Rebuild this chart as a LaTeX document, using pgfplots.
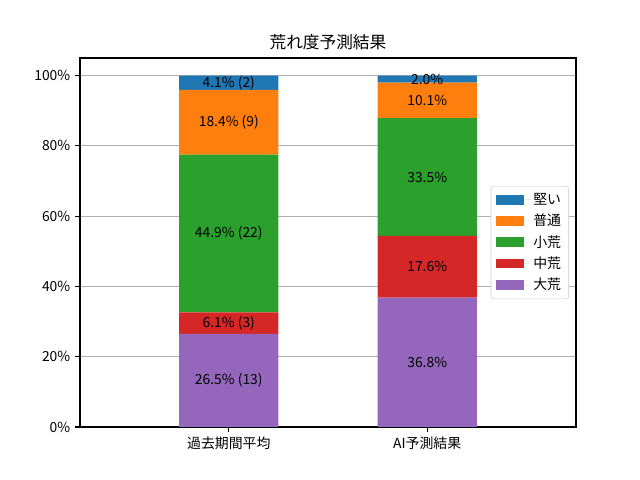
\documentclass[border=0pt]{standalone}
\usepackage{fontspec}
\setmainfont{Noto Sans CJK JP}
\usepackage{pgfplots}
\pgfplotsset{compat=1.18}
\definecolor{c1}{HTML}{1F77B4}
\definecolor{c2}{HTML}{FF7F0E}
\definecolor{c3}{HTML}{2CA02C}
\definecolor{c4}{HTML}{D62728}
\definecolor{c5}{HTML}{9467BD}
\begin{document}
\begin{tikzpicture}
\pgfplotsset{
  common/.style={
    scale only axis, width=357.12pt, height=265.68pt,
    xmin=-0.75, xmax=1.75, ymin=0, ymax=105,
  }
}
\begin{axis}[common,
  ybar stacked, bar width=0.5,
  font=\fontsize{10}{12}\selectfont,
  /pgf/number format/assume math mode=true,
  xtick={0,1}, xticklabels={過去期間平均,AI予測結果},
  ytick={0,20,40,60,80,100},
  yticklabels={0\%,20\%,40\%,60\%,80\%,100\%},
  tick align=outside, tick pos=left,
  major tick length=3.5pt,
  every tick/.style={black, line width=0.8pt},
  axis line style={line width=0.8pt},
  ymajorgrids, grid style={color=black!31, line width=0.8pt},
  title={荒れ度予測結果},
  title style={font=\fontsize{12}{14}\selectfont, yshift=-4pt},
  legend style={at={(1,0.5)}, anchor=east, xshift=-5pt,
    draw=black!20, rounded corners=2pt, fill=white,
    font=\fontsize{10}{12}\selectfont, row sep=1.5pt,
    inner xsep=3.5pt, inner ysep=3pt},
  legend cell align=left,
  reverse legend,
  legend image code/.code={\fill[#1, sharp corners] (0pt,-3.5pt) rectangle (20pt,3.5pt); \path (0pt,0pt) -- (25pt,0pt);},
]
\addplot[fill=c5, draw=none] coordinates {(0,26.5) (1,36.8)};
\addlegendentry{大荒}
\addplot[fill=c4, draw=none] coordinates {(0,6.1) (1,17.6)};
\addlegendentry{中荒}
\addplot[fill=c3, draw=none] coordinates {(0,44.9) (1,33.5)};
\addlegendentry{小荒}
\addplot[fill=c2, draw=none] coordinates {(0,18.4) (1,10.1)};
\addlegendentry{普通}
\addplot[fill=c1, draw=none] coordinates {(0,4.1) (1,2.0)};
\addlegendentry{堅い}
\end{axis}
\begin{axis}[common, hide axis]
\addplot[draw=none, nodes near coords, point meta=explicit symbolic,
  every node near coord/.append style={anchor=center, font=\fontsize{10}{12}\selectfont, text=black}]
  table[meta=label] {
x y label
0 13.25 {26.5\% (13)}
0 29.55 {6.1\% (3)}
0 55.05 {44.9\% (22)}
0 86.7 {18.4\% (9)}
0 97.95 {4.1\% (2)}
1 18.4 {36.8\%}
1 45.6 {17.6\%}
1 71.15 {33.5\%}
1 92.95 {10.1\%}
1 99.0 {2.0\%}
};
\end{axis}
\path (0,0) ++(-57.6pt,-38.16pt) rectangle ++(460.8pt,345.6pt);
\end{tikzpicture}
\end{document}
